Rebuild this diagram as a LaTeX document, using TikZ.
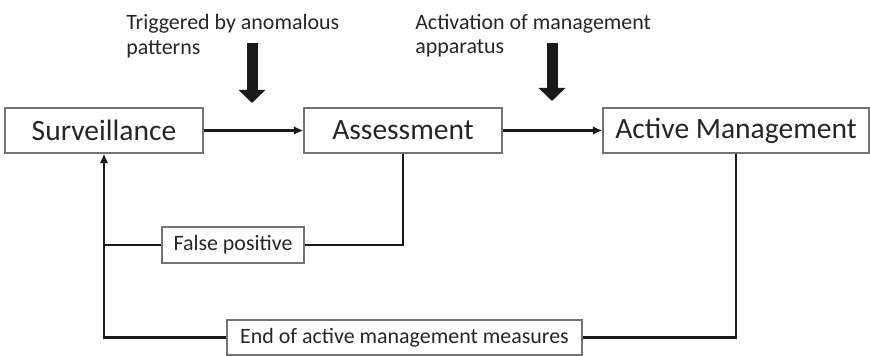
\documentclass[tikz,border=0pt]{standalone}
\usepackage{fontspec}
\setmainfont{Carlito}
\usepackage{tikz}
\usetikzlibrary{arrows.meta, positioning, calc}

\begin{document}
\begin{tikzpicture}[
    stage/.style={draw=black!55, line width=0.9pt, minimum width=4.95cm, minimum height=1.125cm, inner sep=0pt, font=\fontsize{21}{25}\selectfont, text=black!85},
    smallbox/.style={draw=black!55, line width=0.9pt, inner sep=0pt, font=\fontsize{15.6}{17.1}\selectfont, text=black!85},
    note/.style={anchor=north west, align=left, inner sep=0pt, font=\fontsize{15.6}{17.1}\selectfont, text=black!85},
    flow/.style={line width=1.6pt, black!90, -{Latex[length=0.24cm, width=0.22cm]}},
    line/.style={line width=1.6pt, black!90},
    bigarrow/.style={line width=0.275cm, black!90, -{Triangle[length=0.325cm, width=0.65cm]}}
]
\useasboundingbox (0,0) rectangle (21.75,8.9);

% Main stages
\node[stage] (surv) at (2.6,5.6375) {Surveillance};
\node[stage] (asmt) at (10.075,5.6375) {Assessment};
\node[stage, minimum width=6.65cm] (actv) at (18.4,5.6375) {Active Management};

\draw[flow] (surv) -- (asmt);
\draw[flow] (asmt) -- (actv);

% Triggers from above
\node[note] (trig) at (3.15,8.5375) {Triggered by anomalous\\patterns};
\node[note] (activ) at (10.375,8.5375) {Activation of management\\apparatus};

\coordinate (trigtop) at (6.3,7.825);
\coordinate (trigend) at (6.3,6.325);
\coordinate (activtop) at (13.8,7.825);
\coordinate (activend) at (13.8,6.375);
\draw[bigarrow] (trigtop) -- (trigend);
\draw[bigarrow] (activtop) -- (activend);

% Feedback loops
\node[smallbox, minimum width=3.55cm, minimum height=0.9cm] (fp) at (5.825,2.775) {False positive};
\node[smallbox, minimum width=8.875cm, minimum height=0.875cm] (endm) at (10.1125,0.4625) {End of active management measures};

\coordinate (join) at (fp.west -| surv.south);
\draw[line] (asmt.south) |- (fp.east);
\draw[line] (fp.west) -- (join);
\draw[line] (actv.south) |- (endm.east);
\draw[flow] (endm.west) -| (surv.south);
\end{tikzpicture}
\end{document}
